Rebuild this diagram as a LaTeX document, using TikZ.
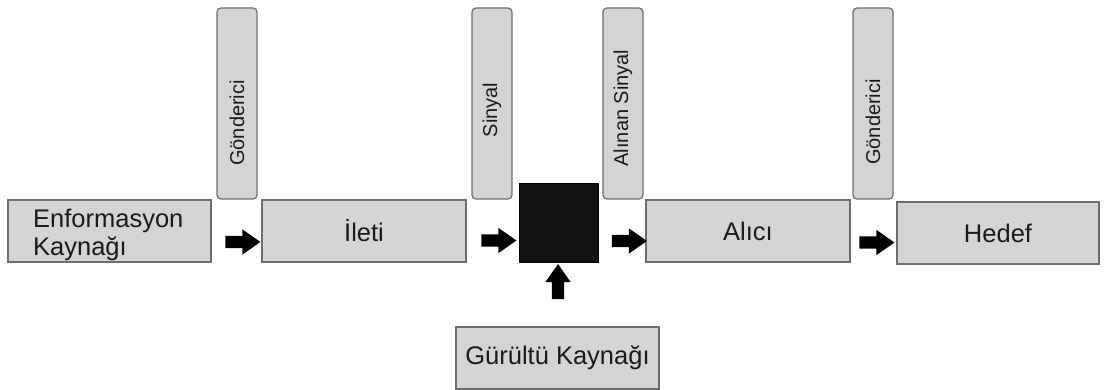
\documentclass[tikz,border=0pt]{standalone}
\usepackage{fontspec}
\setmainfont{Liberation Sans}
\usetikzlibrary{shapes.arrows}
\definecolor{boxfill}{HTML}{D4D4D4}
\definecolor{boxline}{HTML}{6E6E6E}
\definecolor{txt}{HTML}{1A1A1A}
\begin{document}
\begin{tikzpicture}[x=1pt,y=-1pt,
  flatbox/.style={draw=boxline, fill=boxfill, line width=1.2pt, minimum width=203pt, minimum height=62pt, inner sep=0pt, text=txt, font=\fontsize{25.5}{28}\selectfont},
  vbox/.style={draw=boxline, fill=boxfill, line width=1.2pt, rounded corners=4pt, minimum width=40pt, minimum height=191pt, inner sep=0pt},
  vlabel/.style={rotate=90, inner sep=0pt, text=txt, font=\fontsize{20}{24}\selectfont},
  blockarrow/.style={single arrow, fill=black, draw=none, inner xsep=0pt, inner ysep=6pt, single arrow head extend=6.5pt, minimum height=35pt, single arrow tip angle=70}
]
\useasboundingbox (0,0) rectangle (1105,390);

% main row
\node[flatbox] (enf) at (109.5,231) {};
\node[anchor=west, align=left, inner sep=0pt, text=txt, font=\fontsize{25.5}{28}\selectfont] (enftext) at (33,235) {Enformasyon\\Kaynağı};
\node[flatbox, minimum width=204pt] (ileti) at (364,231) {İleti};
\node[draw=black, fill=black!93, minimum width=79pt, minimum height=79pt, inner sep=0pt] (noise) at (558.5,222.5) {};
\node[flatbox, minimum width=204pt] (alici) at (748,231) {Alıcı};
\node[flatbox, minimum width=202pt] (hedef) at (998,233) {Hedef};
\node[flatbox] (gurultu) at (557.5,358) {Gürültü Kaynağı};

% vertical boxes
\node[vbox] (v1) at (237,103.5) {};
\node[vbox] (v2) at (492,103.5) {};
\node[vbox] (v3) at (623,103.5) {};
\node[vbox] (v4) at (873,103.5) {};
\node[vlabel] (l1) at (237,123) {Gönderici};
\node[vlabel] (l2) at (492,110) {Sinyal};
\node[vlabel] (l3) at (623,108) {Alınan Sinyal};
\node[vlabel] (l4) at (873,122) {Gönderici};

% block arrows
\node[blockarrow] (a1) at (238.5,242) {};
\node[blockarrow] (a2) at (494.5,240.5) {};
\node[blockarrow] (a3) at (625,241) {};
\node[blockarrow] (a4) at (872.5,242.5) {};
\node[blockarrow, rotate=90] (a5) at (558,286) {};
\end{tikzpicture}
\end{document}
